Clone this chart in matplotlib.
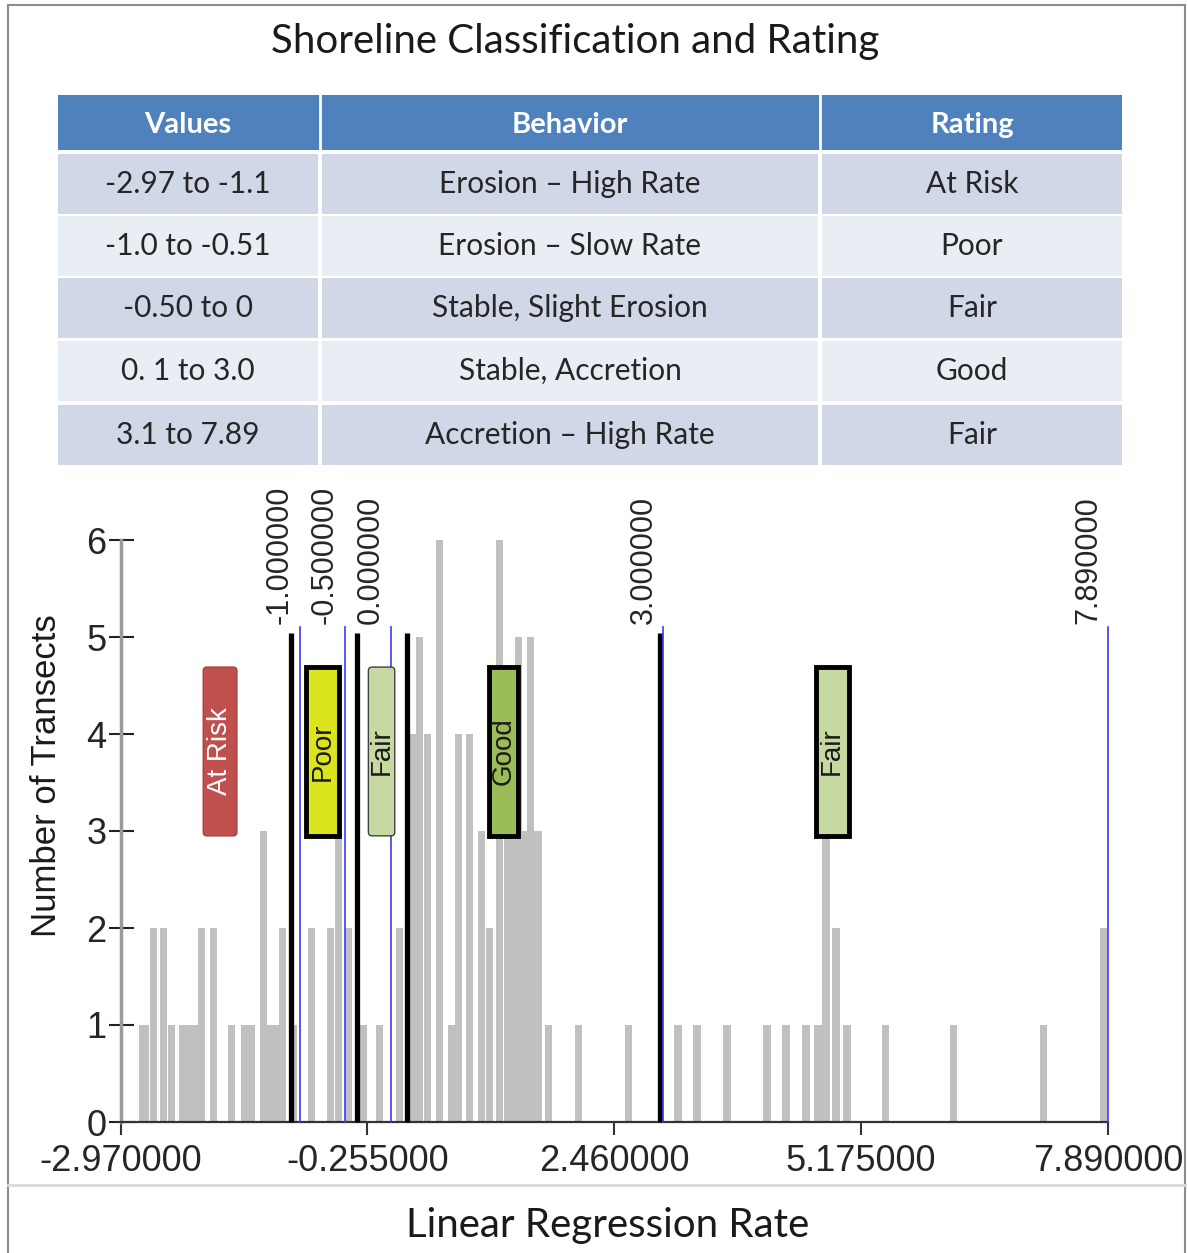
import matplotlib
matplotlib.use("Agg")
import matplotlib.pyplot as plt
import matplotlib.transforms as mtransforms
from matplotlib.patches import Rectangle, FancyBboxPatch

# ---- classification table ----
columns = ["Values", "Behavior", "Rating"]
value_ranges = ["-2.97 to -1.1", "-1.0 to -0.51", "-0.50 to 0", "0. 1 to 3.0", "3.1 to 7.89"]
behaviors = ["Erosion \u2013 High Rate", "Erosion \u2013 Slow Rate", "Stable, Slight Erosion",
             "Stable, Accretion", "Accretion \u2013 High Rate"]
ratings = ["At Risk", "Poor", "Fair", "Good", "Fair"]

# ---- histogram of linear regression rates ----
rate_bins = [-2.73, -2.695, -2.61, -2.50, -2.41, -2.29, -2.21, -2.16, -2.08, -1.95,
             -1.75, -1.61, -1.53, -1.40, -1.32, -1.27, -1.19, -1.07, -0.87, -0.66,
             -0.57, -0.46, -0.30, -0.12, 0.10, 0.24, 0.32, 0.41, 0.54, 0.67,
             0.75, 0.87, 1.00, 1.09, 1.20, 1.29, 1.33, 1.41, 1.47, 1.54,
             1.62, 1.74, 2.07, 2.62, 3.16, 3.37, 3.70, 4.14, 4.35, 4.57,
             4.70, 4.79, 4.90, 5.02, 5.44, 6.19, 7.18, 7.84]
transect_counts = [1, 1, 2, 2, 1, 1, 1, 1, 2, 2,
                   1, 1, 1, 3, 1, 1, 2, 1, 2, 2,
                   3, 2, 1, 1, 2, 4, 5, 4, 6, 1,
                   4, 4, 3, 2, 6, 3, 3, 5, 3, 5,
                   3, 1, 1, 1, 1, 1, 1, 1, 1, 1,
                   1, 3, 2, 1, 1, 1, 1, 2]

x_min, x_max = -2.97, 7.89
x_ticks = [-2.97, -0.255, 2.46, 5.175, 7.89]
y_ticks = [0, 1, 2, 3, 4, 5, 6]

class_breaks = [-1.0, -0.5, 0.0, 3.0, 7.89]
manual_breaks = [-1.1, -0.37, 0.18, 2.96]

tag_labels = ["At Risk", "Poor", "Fair", "Good", "Fair"]

W, H = 1188, 1253
fig = plt.figure(figsize=(W / 100, H / 100), dpi=100)
fig.patch.set_facecolor("white")

# overlay in pixel units for title, table and frame
ov = fig.add_axes([0, 0, 1, 1])
ov.set_xlim(0, W)
ov.set_ylim(H, 0)
ov.axis("off")

table_font = "Lato"
ov.text(575, 42, "Shoreline Classification and Rating", ha="center", va="center",
        fontsize=29, family=table_font, color="#1a1a1a")

col_edges = [(58, 318), (322, 818), (822, 1122)]
ov.add_patch(Rectangle((58, 95), 1122 - 58, 55, facecolor="#4F81BD", edgecolor="none"))
for (x0, x1) in col_edges[1:]:
    ov.plot([x0 - 2, x0 - 2], [95, 150], color="white", lw=2)
for (x0, x1), name in zip(col_edges, columns):
    ov.text((x0 + x1) / 2, 125, name, ha="center", va="center", fontsize=21,
            fontweight="bold", family=table_font, color="white")

row_tops = [154, 216, 278, 341, 405]
row_h = 60
row_colors = ["#D0D8E8", "#E9EDF4", "#D0D8E8", "#E9EDF4", "#D0D8E8"]
for r, (top, rc) in enumerate(zip(row_tops, row_colors)):
    for (x0, x1) in col_edges:
        ov.add_patch(Rectangle((x0, top), x1 - x0, row_h, facecolor=rc, edgecolor="none"))
    cells = [value_ranges[r], behaviors[r], ratings[r]]
    for (x0, x1), txt in zip(col_edges, cells):
        ov.text((x0 + x1) / 2, top + row_h / 2, txt, ha="center", va="center",
                fontsize=21.5, family=table_font, color="#262626")

# frame around the whole panel
ov.plot([8, 8], [5, H], color="#8c8c8c", lw=1.5)
ov.plot([8, 1185], [5, 5], color="#8c8c8c", lw=1.5)
ov.plot([1185, 1185], [5, H], color="#8c8c8c", lw=1.5)
ov.plot([8, 1185], [1185, 1185], color="#d9d9d9", lw=2)

ov.text(608, 1225, "Linear Regression Rate", ha="center", va="center",
        fontsize=29, family=table_font, color="#1a1a1a")

# ---- histogram axes ----
left, right = 120.5 / W, 1108 / W
bottom, top = 1 - 1122 / H, 1 - 540 / H
ax = fig.add_axes([left, bottom, right - left, top - bottom])
ax.set_facecolor("none")
ax.set_xlim(x_min, x_max)
ax.set_ylim(0, 6)

ax.bar(rate_bins, transect_counts, width=0.08, color="#C0C0C0", edgecolor="none", zorder=1)

for b in manual_breaks:
    ax.plot([b, b], [0, 5.04], color="black", lw=3.8, solid_capstyle="butt", zorder=3, clip_on=False)
label_tr = mtransforms.offset_copy(ax.transData, fig=fig, x=-5, y=0, units="dots")
for b in class_breaks:
    ax.plot([b, b], [0, 5.1], color="#3A3AF5", lw=1.2, zorder=4, clip_on=False)
    ax.text(b, 5.13, f"{b:.6f}", transform=label_tr, rotation=90, ha="right", va="bottom",
            fontsize=22, family="Liberation Sans", color="#262626", clip_on=False)

# rating tags
tag_layout = [
    # x centre, width, face, edge, edge width, text colour
    (-1.875, 0.37, "#C0504D", "#A5403D", 1.0, "white"),
    (-0.748, 0.37, "#DCE41E", "black", 3.5, "#1a1a1a"),
    (-0.099, 0.29, "#C6D9A0", "#404040", 1.0, "#1a1a1a"),
    (1.238, 0.32, "#9BBB59", "black", 3.5, "#1a1a1a"),
    (4.857, 0.36, "#C6D9A0", "black", 3.5, "#1a1a1a"),
]
y0, y1 = 2.95, 4.69
for label, (xc, w, fc, ec, lw, tc) in zip(tag_labels, tag_layout):
    style = "round,pad=0,rounding_size=0.04" if lw < 2 else "square,pad=0"
    ax.add_patch(FancyBboxPatch((xc - w / 2, y0), w, y1 - y0, boxstyle=style,
                                facecolor=fc, edgecolor=ec, lw=lw, zorder=5,
                                mutation_aspect=1))
    ax.text(xc, (y0 + y1) / 2, label, rotation=90, ha="center", va="center",
            fontsize=20, family="Liberation Sans", color=tc, zorder=6)

ax.spines["top"].set_visible(False)
ax.spines["right"].set_visible(False)
ax.spines["left"].set_color("#9a9a9a")
ax.spines["left"].set_linewidth(2.5)
ax.spines["bottom"].set_color("#333333")
ax.spines["bottom"].set_linewidth(1.6)

ax.set_xticks(x_ticks)
ax.set_xticklabels([f"{t:.6f}" for t in x_ticks])
ax.set_yticks(y_ticks)
ax.set_yticklabels([str(t) for t in y_ticks])
ax.tick_params(axis="x", direction="out", length=9, width=1.5, color="#333333", pad=7,
               labelsize=26, labelcolor="#262626")
ax.tick_params(axis="y", direction="inout", length=18, width=1.5, color="#222222", pad=1,
               labelsize=26, labelcolor="#262626")
for lab in ax.get_xticklabels() + ax.get_yticklabels():
    lab.set_family("Liberation Sans")

ax.set_ylabel("Number of Transects", fontsize=25, family="Liberation Sans", color="#1a1a1a")
ax.yaxis.set_label_coords(-0.058, 0.596, transform=ax.transAxes)

fig.savefig("out.png", dpi=100, facecolor="white")
